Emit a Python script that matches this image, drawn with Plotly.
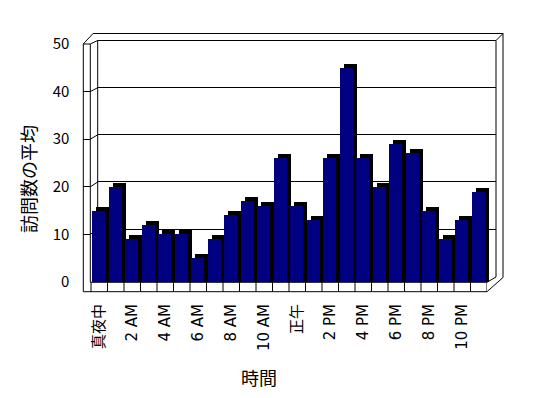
import plotly.graph_objects as go

# ---- data ----
hours = list(range(24))
visits = [15, 20, 9, 12, 10, 10, 5, 9, 14, 17, 16, 26, 16, 13, 26, 45, 26, 20, 29, 27, 15, 9, 13, 19]
tick_positions = [0, 2, 4, 6, 8, 10, 12, 14, 16, 18, 20, 22]
tick_labels = ["真夜中", "2 AM", "4 AM", "6 AM", "8 AM", "10 AM", "正午", "2 PM", "4 PM", "6 PM", "8 PM", "10 PM"]
y_ticks = [0, 10, 20, 30, 40, 50]

# page body adds an 8px offset; figure sized to fit the window
OFF = 8
W, H = 548 - OFF, 398 - OFF
FONT = "Noto Sans CJK JP"
XFONT = "DejaVu Sans, Noto Sans CJK JP"
NAVY = "#000080"

def px(x):
    return (x - OFF) / W

def py(y):
    return 1 - (y - OFF) / H

F_LEFT, F_RIGHT = 83.3, 487.0
CAT0 = 91.0
CATW = (F_RIGHT - CAT0) / 24
F_BOT, F_TOP = 282.0, 44.0
UNIT = (F_BOT - F_TOP) / 50.0
x_lo = -0.5 - (CAT0 - F_LEFT) / CATW
SDX, SDY = 3.3, 4.0
B_LEFT, B_RIGHT, B_BOT, B_TOP = 97.7, 496.0, 276.3, 40.5
O_TOP, O_RIGHT = 33.5, 503.0
FLOOR_FRONT = 291.7
WALL_IN = 90.3

fig = go.Figure()
fig.add_trace(go.Scatter(x=[hours[0]], y=[visits[0]], mode="markers", marker=dict(opacity=0),
                         xaxis="x", yaxis="y", showlegend=False, hoverinfo="skip"))
fig.add_trace(go.Bar(x=hours, y=[v + SDY / UNIT for v in visits], base=-SDY / UNIT,
                     marker=dict(color="black", line=dict(width=0)), width=0.79,
                     xaxis="x2", yaxis="y2", showlegend=False, hoverinfo="skip"))
fig.add_trace(go.Bar(x=hours, y=visits, marker=dict(color=NAVY, line=dict(width=0)), width=0.79,
                     xaxis="x3", yaxis="y3", showlegend=False))

ax_common = dict(showgrid=False, zeroline=False, showline=False, ticks="", showticklabels=False,
                 fixedrange=True, automargin=False)

fig.update_layout(
    width=W, height=H, autosize=False,
    margin=dict(l=0, r=0, t=0, b=0, pad=0, autoexpand=False),
    showlegend=False,
    paper_bgcolor="white", plot_bgcolor="rgba(0,0,0,0)",
    bargap=0,
    font=dict(family=FONT, color="black", size=15),
    xaxis=dict(domain=[px(B_LEFT), px(B_RIGHT)], range=[0, 1], anchor="y", **ax_common),
    yaxis=dict(domain=[py(B_BOT), py(B_TOP)], range=[0, 50], anchor="x",
               showgrid=True, gridcolor="black", gridwidth=1, dtick=10, automargin=False,
               zeroline=False, showline=False, ticks="", showticklabels=False, fixedrange=True),
    xaxis2=dict(domain=[px(F_LEFT + SDX), px(F_RIGHT + SDX)], range=[x_lo, 23.5], anchor="y2", **ax_common),
    yaxis2=dict(domain=[py(F_BOT), py(F_TOP - SDY)], range=[-SDY / UNIT, 50], anchor="x2", **ax_common),
    xaxis3=dict(domain=[px(F_LEFT), px(F_RIGHT)], range=[x_lo, 23.5], anchor="y3", automargin=False,
                showgrid=False, zeroline=False, showline=False, ticks="",
                tickmode="array", tickvals=tick_positions, ticktext=tick_labels,
                tickangle=-90, ticklabelstandoff=18, tickfont=dict(size=15, family=XFONT),
                fixedrange=True),
    yaxis3=dict(domain=[py(F_BOT), py(F_TOP)], range=[0, 50], anchor="x3", automargin=False,
                showgrid=False, zeroline=False, showline=False,
                tickmode="array", tickvals=y_ticks, ticks="inside", ticklen=7,
                tickcolor="black", tickwidth=1, ticklabelstandoff=13,
                tickfont=dict(size=15, family=FONT), fixedrange=True),
)

shapes = []

def line(x0, y0, x1, y1):
    shapes.append(dict(type="line", xref="paper", yref="paper",
                       x0=px(x0), y0=py(y0), x1=px(x1), y1=py(y1),
                       line=dict(color="black", width=1), layer="below"))

# left wall
line(F_LEFT, F_TOP, F_LEFT, FLOOR_FRONT)
line(WALL_IN, F_TOP, WALL_IN, F_BOT)
line(F_LEFT, F_TOP, WALL_IN, F_TOP)
line(F_LEFT, F_TOP, 93.0, O_TOP)
line(WALL_IN, F_TOP, B_LEFT, B_TOP)
# back wall outline
line(93.0, O_TOP, O_RIGHT, O_TOP)
line(B_LEFT, B_TOP, B_RIGHT, B_TOP)
line(B_LEFT, B_TOP, B_LEFT, B_BOT)
line(B_RIGHT, B_TOP, O_RIGHT, O_TOP)
line(B_RIGHT, B_TOP, B_RIGHT, 277.0)
line(O_RIGHT, O_TOP, O_RIGHT, 277.5)
# left wall grid connectors
b_unit = (B_BOT - B_TOP) / 50.0
for v in y_ticks[1:-1]:
    line(WALL_IN, F_BOT - v * UNIT, B_LEFT, B_BOT - v * b_unit)
# floor
line(F_LEFT, FLOOR_FRONT, F_RIGHT, FLOOR_FRONT)
line(WALL_IN, F_BOT + 0.3, F_RIGHT, F_BOT + 0.3)
line(F_RIGHT, F_BOT + 0.3, B_RIGHT, 277.0)
line(F_RIGHT, FLOOR_FRONT, O_RIGHT, 277.5)
for k in range(len(hours) + 1):
    shapes.append(dict(type="line", xref="x3", yref="paper",
                       x0=k - 0.5, x1=k - 0.5, y0=py(F_BOT + 0.3), y1=py(FLOOR_FRONT),
                       line=dict(color="black", width=1), layer="below"))

fig.update_layout(shapes=shapes)

fig.update_layout(annotations=[
    dict(text="時間", xref="paper", yref="paper", x=px(259), y=py(377),
         showarrow=False, font=dict(size=18, family=FONT), xanchor="center", yanchor="middle"),
    dict(text="訪問数の平均", xref="paper", yref="paper", x=px(28), y=py(179),
         showarrow=False, textangle=-90, font=dict(size=18, family=FONT),
         xanchor="center", yanchor="middle"),
])

fig.write_html("out.html")
